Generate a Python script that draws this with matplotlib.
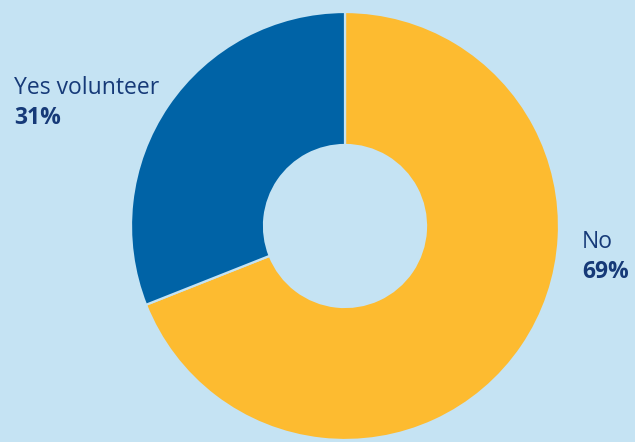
import matplotlib.pyplot as plt

labels = ["No", "Yes volunteer"]
shares = [69, 31]
colors = ["#fdbb30", "#0063a6"]

bg = "#c5e3f3"
txt = "#163a78"
plt.rcParams['font.family'] = ['Open Sans', 'DejaVu Sans']

fig = plt.figure(figsize=(6.35, 4.42), dpi=100, facecolor=bg)
ax = fig.add_axes([0, 0, 1, 1])
ax.set_facecolor(bg)

# ring drawn in pixel units so it sits where it should in the frame
ax.pie(shares, colors=colors, startangle=90, counterclock=False,
       center=(345, 216), radius=214,
       wedgeprops=dict(width=133, edgecolor=bg, linewidth=1.6))
ax.set_xlim(0, 635)
ax.set_ylim(0, 442)
ax.set_aspect('equal')
ax.axis('off')

ax.text(14, 354, labels[1], fontsize=16.5, color=txt, va='center', ha='left')
ax.text(14, 324, f"{shares[1]}%", fontsize=16.5, color=txt, va='center', ha='left', fontweight='bold')
ax.text(582, 200, labels[0], fontsize=16.5, color=txt, va='center', ha='left')
ax.text(582, 170, f"{shares[0]}%", fontsize=16.5, color=txt, va='center', ha='left', fontweight='bold')

fig.savefig("out.png", dpi=100, facecolor=bg)
